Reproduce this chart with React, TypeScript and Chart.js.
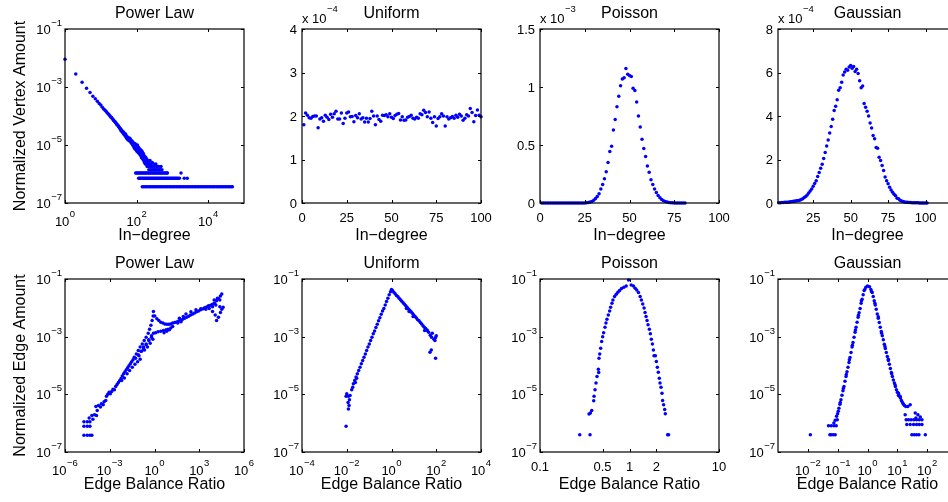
import React, { useEffect, useRef } from "react";
import { Chart, registerables } from "chart.js";

Chart.register(...registerables);

/* ============================ DATA ============================ */

// ---- Top row: in-degree distributions ----

// Power law: [in-degree, normalized vertex amount]
const powerLawIn: [number, number][] = [
  [1, 9.0e-3], [2, 2.8e-3], [3, 1.45e-3], [4, 9.0e-4], [5, 6.4e-4], [6, 4.8e-4], [7, 3.9e-4], [8, 3.2e-4], [9, 2.7e-4], [10, 2.4e-4],
  [11, 2.0e-4], [12, 1.75e-4], [13, 1.6e-4], [14, 1.45e-4], [15, 1.3e-4], [16, 1.2e-4], [17, 1.1e-4], [18, 1.0e-4], [19, 9.2e-5], [20, 8.8e-5],
  [21, 8.0e-5], [22, 7.6e-5], [23, 7.0e-5], [24, 6.6e-5], [25, 6.3e-5], [26, 5.8e-5], [27, 5.6e-5], [28, 5.1e-5], [29, 5.0e-5], [30, 4.8e-5],
  [31, 4.4e-5], [32, 4.3e-5], [33, 3.9e-5], [34, 3.8e-5], [35, 3.6e-5], [36, 3.3e-5], [37, 3.4e-5], [38, 3.0e-5], [39, 3.1e-5], [40, 2.9e-5],
  [41, 2.7e-5], [42, 2.6e-5], [43, 2.8e-5], [44, 2.4e-5], [45, 2.3e-5], [46, 2.5e-5], [47, 2.2e-5], [48, 2.1e-5], [49, 2.4e-5], [50, 2.2e-5],
  [51, 1.8e-5], [52, 2.0e-5], [53, 1.9e-5], [54, 1.7e-5], [55, 1.6e-5], [56, 1.9e-5], [57, 1.65e-5], [58, 1.5e-5], [59, 1.75e-5], [60, 1.7e-5],
  [61, 1.6e-5], [63, 1.4e-5], [65, 1.7e-5], [67, 1.3e-5], [69, 1.5e-5], [71, 1.2e-5], [73, 1.4e-5], [74, 1.1e-5], [76, 1.3e-5], [78, 1.0e-5],
  [79, 1.25e-5], [81, 9.4e-6], [83, 1.15e-5], [84, 8.6e-6], [86, 1.05e-5], [87, 7.9e-6], [89, 9.7e-6], [91, 1.1e-5], [92, 7.2e-6], [94, 9.0e-6],
  [95, 1.0e-5], [97, 6.8e-6], [98, 8.3e-6], [101, 9.4e-6], [102, 6.1e-6], [104, 7.6e-6], [105, 1.0e-5], [107, 5.8e-6], [108, 7.2e-6], [111, 8.6e-6],
  [112, 5.4e-6], [115, 6.5e-6], [116, 7.9e-6], [119, 5.0e-6], [120, 6.1e-6], [123, 7.2e-6], [124, 4.7e-6], [127, 5.8e-6], [128, 6.8e-6], [131, 4.3e-6],
  [133, 5.4e-6], [134, 6.5e-6], [137, 3.6e-6], [139, 5.0e-6], [141, 6.1e-6], [143, 4.0e-6], [145, 4.7e-6], [147, 5.4e-6], [150, 3.2e-6], [152, 4.3e-6],
  [155, 5.0e-6], [158, 2.9e-6], [160, 3.6e-6], [163, 4.3e-6], [166, 2.5e-6], [169, 3.2e-6], [172, 3.9e-6], [175, 2.2e-6], [178, 2.9e-6], [182, 3.6e-6],
  [185, 2.2e-6], [189, 2.5e-6], [193, 3.2e-6], [197, 1.8e-6], [201, 2.9e-6], [205, 2.2e-6], [210, 1.8e-6], [215, 2.5e-6], [220, 1.4e-6], [225, 2.2e-6],
  [231, 1.8e-6], [237, 2.9e-6], [243, 1.4e-6], [250, 2.2e-6], [257, 1.8e-6], [265, 1.4e-6], [273, 2.5e-6], [282, 1.8e-6], [291, 1.4e-6], [300, 2.2e-6],
  [310, 1.4e-6], [320, 1.8e-6], [332, 1.4e-6], [345, 2.2e-6], [358, 1.4e-6], [372, 1.8e-6], [390, 1.4e-6], [410, 1.8e-6], [430, 1.4e-6], [455, 1.4e-6],
  [480, 1.8e-6], [510, 1.4e-6],
];
// Power law: the flat rows at the bottom (3, 2 and 1 vertices)
const powerLawInRowAmounts = [1.08e-6, 7.2e-7, 3.6e-7];
const powerLawInRowDegrees: number[][] = [
  [94, 100, 106, 113, 120, 128, 136, 145, 155, 165, 176, 188, 200, 214, 228, 244, 260, 278, 297, 317, 339, 362, 387, 413, 441, 471, 503, 537, 574, 613, 655, 700, 725, 1740],
  [114, 121, 129, 137, 146, 156, 166, 177, 189, 202, 215, 230, 245, 262, 279, 298, 318, 340, 363, 387, 413, 441, 471, 503, 537, 574, 613, 655, 700, 747, 798, 852, 910, 972, 1040, 1110, 1190, 1270, 1360, 1460, 1570, 2140, 2600],
  [144, 158, 174, 191, 210, 231, 254, 280, 308, 338, 372, 409, 450, 495, 545, 600, 660, 725, 800, 880, 965, 1060, 1170, 1290, 1420, 1560, 1710, 1880, 2070, 2280, 2510, 2760, 3030, 3340, 3670, 4040, 4440, 4880, 5370, 5910, 6500, 7150, 7870, 8650, 9520, 10500, 11500, 12700, 13900, 15300, 16900, 18600, 20400, 22500, 24700, 27200, 29900, 32900, 36200, 39800, 43800, 47300],
];

// Uniform: amount (x 10^-4) for in-degree 1..100
const uniformInFirstDegree = 1;
const uniformInExponent = -4;
const uniformInAmount = [
  1.80, 2.07, 2.02, 1.96, 1.95, 1.99, 2.00, 2.00, 1.73, 1.93, 1.96, 1.88, 2.02, 1.97, 1.92, 2.04, 1.97, 2.05, 2.11, 1.93,
  1.93, 2.07, 1.83, 1.95, 2.07, 2.09, 1.98, 1.99, 1.87, 2.01, 1.96, 2.05, 1.93, 1.96, 1.86, 1.95, 1.86, 1.94, 2.11, 2.00,
  1.80, 2.00, 1.92, 1.88, 2.02, 2.01, 2.03, 1.98, 2.05, 1.97, 1.94, 2.01, 2.04, 2.06, 1.91, 1.98, 1.90, 1.91, 1.97, 1.99,
  2.02, 1.95, 1.93, 1.97, 1.95, 2.05, 2.03, 2.13, 2.08, 1.98, 2.09, 1.95, 1.85, 1.98, 1.77, 1.94, 1.98, 2.05, 2.00, 1.77,
  1.98, 1.93, 1.96, 1.99, 1.95, 2.02, 1.97, 2.04, 2.00, 1.90, 1.95, 2.03, 2.00, 2.17, 2.08, 1.87, 2.01, 2.14, 2.02, 1.98,
];

// Poisson: amount (x 10^-3) for in-degree 1..81
const poissonInFirstDegree = 1;
const poissonInExponent = -3;
const poissonInAmount = [
  0, 0, 0, 0, 0, 0, 0, 0, 0, 0, 0, 0, 0, 0, 0, 0, 0, 0, 0, 0, 0, 0, 0, 0, 0.001,
  0.002, 0.004, 0.008, 0.014, 0.024, 0.038, 0.056, 0.08, 0.12, 0.16,
  0.21, 0.27, 0.35, 0.445, 0.49, 0.63, 0.72, 0.83, 0.92, 1.01,
  1.07, 1.08, 1.16, 1.11, 1.10, 1.09, 0.99, 0.97, 0.87, 0.75,
  0.655, 0.55, 0.47, 0.40, 0.32, 0.265, 0.20, 0.16, 0.12, 0.09,
  0.065, 0.045, 0.03, 0.02, 0.013, 0.008, 0.005, 0.003, 0.002, 0.001,
  0.001, 0.0005, 0.0003, 0.0002, 0.0001, 0.0001,
];

// Gaussian: amount (x 10^-4) for in-degree 2..101
const gaussianInFirstDegree = 2;
const gaussianInExponent = -4;
const gaussianInAmount = [
  0.01, 0.01, 0.02, 0.02, 0.03, 0.03, 0.04, 0.05, 0.06, 0.07,
  0.08, 0.09, 0.10, 0.12, 0.13, 0.16, 0.20, 0.25, 0.30, 0.37,
  0.46, 0.55, 0.64, 0.77, 0.90, 1.02, 1.22, 1.40, 1.60, 1.78,
  2.05, 2.32, 2.62, 2.90, 3.22, 3.52, 3.85, 4.25, 4.45, 4.75,
  5.18, 5.30, 5.55, 5.88, 6.02, 6.15, 6.10, 6.25, 6.32, 6.20,
  6.28, 6.05, 6.15, 5.95, 5.62, 5.30, 5.38, 4.58, 4.40, 4.22,
  4.00, 3.68, 3.45, 3.10, 2.95, 2.55, 2.52, 2.10, 1.95, 1.72,
  1.50, 1.20, 1.02, 0.88, 0.72, 0.60, 0.50, 0.40, 0.33, 0.22,
  0.20, 0.13, 0.09, 0.07, 0.05, 0.04, 0.03, 0.025, 0.02, 0.015,
  0.012, 0.01, 0.008, 0.006, 0.005, 0.004, 0.003, 0.003, 0.002, 0.002,
];

// ---- Bottom row: edge balance ratio as [log10 ratio, log10 amount] ----
const powerLawEdgeLog: [number, number][] = [
  [-4.73, -6.42], [-4.51, -6.42], [-4.33, -6.42], [-4.20, -6.42],
  [-4.73, -6.11], [-4.51, -6.11], [-4.33, -6.11],
  [-4.73, -5.95], [-4.51, -5.95], [-4.33, -5.95],
  [-4.13, -5.86], [-4.38, -5.82], [-4.20, -5.73], [-4.02, -5.71], [-3.89, -5.73], [-3.84, -5.56], [-3.93, -5.42], [-3.76, -5.39],
  [-3.62, -5.44], [-3.56, -5.33], [-3.44, -5.36], [-3.38, -5.26], [-3.27, -5.21], [-3.22, -5.07], [-3.13, -5.00], [-3.04, -4.93],
  [-2.96, -4.98], [-2.87, -4.90], [-2.78, -4.82], [-2.69, -4.84], [-2.60, -4.73], [-2.51, -4.66], [-2.42, -4.59], [-2.33, -4.52],
  [-2.24, -4.45], [-2.16, -4.36], [-2.07, -4.29], [-1.98, -4.22], [-1.89, -4.15], [-1.80, -4.08], [-1.71, -4.01], [-1.62, -3.94],
  [-1.53, -3.87], [-1.44, -3.80],
  [-2.20, -4.52], [-2.02, -4.43], [-1.84, -4.29], [-1.67, -4.17], [-1.49, -4.06], [-1.31, -3.96], [-1.13, -3.87], [-0.96, -3.78],
  [-1.27, -3.75], [-1.09, -3.63], [-0.91, -3.51], [-0.73, -3.36], [-0.56, -3.25], [-0.38, -3.11], [-0.20, -2.97], [-0.07, -2.88],
  [0.64, -2.86], [0.82, -2.81], [1.00, -2.76],
  [-1.36, -3.71], [-1.22, -3.60], [-1.09, -3.48], [-0.96, -3.36], [-0.82, -3.25], [-0.69, -3.13], [-0.56, -3.02], [-0.42, -2.88],
  [-0.33, -2.74], [-0.24, -2.60], [-0.16, -2.44], [-0.09, -2.28], [-0.07, -2.13],
  [-1.04, -3.66], [-0.87, -3.51], [-0.73, -3.43], [-0.56, -3.28], [-0.38, -3.13], [-0.20, -3.02], [-0.47, -3.36], [-0.29, -3.23],
  [-0.11, -3.09], [-0.67, -3.46],
  [0.07, -2.86], [0.24, -2.83], [0.42, -2.81], [0.60, -2.79], [0.78, -2.76], [0.91, -2.74], [1.09, -2.70], [1.22, -2.65],
  [0.02, -2.28], [0.16, -2.38], [0.29, -2.44], [0.42, -2.50], [0.56, -2.53], [0.69, -2.56], [0.82, -2.57], [0.96, -2.57],
  [1.09, -2.56], [1.22, -2.53], [1.36, -2.51], [1.49, -2.49], [1.62, -2.46], [1.76, -2.43], [1.89, -2.40], [2.02, -2.36],
  [2.16, -2.33], [2.29, -2.29], [2.42, -2.25], [2.56, -2.21], [2.69, -2.18], [2.82, -2.14], [2.96, -2.11], [3.09, -2.07],
  [3.22, -2.04], [3.36, -2.00], [3.49, -1.97], [3.62, -1.93], [3.76, -1.91], [3.89, -1.88], [4.02, -1.84], [4.16, -1.75],
  [4.29, -1.68], [4.42, -1.59], [4.51, -1.52],
  [2.11, -2.21], [2.44, -2.14], [2.78, -2.07], [3.11, -2.03], [3.44, -2.05], [3.67, -2.02], [3.89, -1.96], [4.11, -1.90],
  [4.00, -1.73], [4.22, -1.67], [4.38, -1.73], [1.67, -2.36], [1.93, -2.30], [1.56, -2.53], [1.78, -2.48],
  [3.89, -2.13], [4.07, -2.25], [4.16, -2.44], [4.29, -2.33], [4.42, -2.16], [4.51, -2.05], [4.60, -1.98], [4.38, -1.96],
];

const uniformEdgeLog: [number, number][] = [
  [0, -1.36], [-0.044, -1.44], [-0.104, -1.55], [-0.163, -1.67], [-0.222, -1.78], [-0.281, -1.90], [-0.341, -2.02], [-0.4, -2.11],
  [-0.459, -2.22], [-0.519, -2.34], [-0.578, -2.45], [-0.637, -2.57], [-0.696, -2.68], [-0.756, -2.80], [-0.815, -2.90], [-0.874, -3.02],
  [-0.933, -3.13], [-0.993, -3.25], [-1.052, -3.36], [-1.111, -3.48], [-1.17, -3.60], [-1.23, -3.71], [-1.289, -3.83], [-1.348, -3.94],
  [-1.407, -4.06], [-1.467, -4.17], [-1.526, -4.29], [-1.585, -4.40], [-1.644, -4.52], [-1.704, -4.63],
  [-1.556, -4.44], [-1.615, -4.59], [-1.733, -4.75], [-1.778, -4.84], [-1.852, -5.04], [-1.926, -5.07], [-2.0, -4.98], [-2.03, -5.07],
  [-1.881, -5.19], [-1.941, -5.28], [-1.896, -5.39], [-1.926, -5.51], [-2.03, -6.11],
  [0.044, -1.40], [0.104, -1.46], [0.163, -1.51], [0.222, -1.57], [0.281, -1.61], [0.341, -1.67], [0.4, -1.72], [0.459, -1.77],
  [0.519, -1.82], [0.578, -1.88], [0.637, -1.93], [0.696, -1.98], [0.756, -2.04], [0.815, -2.08], [0.874, -2.14], [0.933, -2.19],
  [0.993, -2.25], [1.052, -2.30], [1.111, -2.35], [1.17, -2.41], [1.23, -2.45], [1.289, -2.51], [1.348, -2.56], [1.407, -2.62],
  [1.467, -2.67], [1.526, -2.72], [1.585, -2.77],
  [0.667, -2.02], [0.785, -2.13], [0.963, -2.30], [1.481, -2.79],
  [1.6, -2.79], [1.659, -2.85], [1.733, -2.95], [1.793, -3.02], [1.719, -3.54], [1.778, -3.46], [1.896, -3.09], [1.97, -3.03],
  [1.941, -3.13], [2.0, -2.97], [1.97, -3.75], [1.822, -2.88],
];

const poissonEdgeLog: [number, number][] = [
  [-0.011, -1.035], [0.019, -1.21], [-0.037, -1.24], [0.044, -1.24], [-0.063, -1.29], [0.063, -1.32], [-0.089, -1.33], [0.081, -1.38],
  [-0.111, -1.40], [0.1, -1.47], [-0.13, -1.46], [0.119, -1.61], [-0.148, -1.53], [0.133, -1.73], [-0.167, -1.61], [0.148, -1.87],
  [-0.185, -1.73], [0.163, -2.01], [-0.196, -1.84], [0.174, -2.16], [-0.211, -1.98], [0.185, -2.30], [-0.222, -2.11], [0.196, -2.44],
  [-0.237, -2.25], [0.207, -2.59], [-0.252, -2.40], [0.222, -2.74], [-0.263, -2.53], [0.233, -2.90], [-0.274, -2.67], [0.244, -3.09],
  [-0.289, -2.86], [0.256, -3.25], [-0.30, -3.00], [0.267, -3.46], [-0.311, -3.17], [0.274, -3.66], [-0.322, -3.40], [0.289, -3.66],
  [-0.333, -3.60], [0.30, -3.86], [-0.341, -3.75], [0.311, -4.06], [-0.348, -4.13], [0.322, -4.23], [-0.344, -4.24], [0.333, -4.44],
  [-0.363, -4.38], [0.341, -4.61], [-0.374, -4.61], [0.352, -4.75], [-0.385, -4.84], [0.363, -4.96], [-0.396, -5.07], [0.370, -5.21],
  [-0.40, -5.22], [0.381, -5.36], [-0.422, -5.56], [0.393, -5.53], [-0.437, -5.65], [0.40, -5.67], [-0.452, -5.68],
  [-0.441, -6.40], [-0.556, -6.40], [0.426, -6.40], [0.437, -6.40],
];

const gaussianEdgeLog: [number, number][] = [
  [0, -1.24], [-0.056, -1.29], [-0.113, -1.40], [-0.146, -1.55], [-0.18, -1.70], [-0.214, -1.84], [-0.248, -2.02], [-0.282, -2.17],
  [-0.315, -2.33], [-0.349, -2.50], [-0.383, -2.67], [-0.417, -2.85], [-0.451, -3.02], [-0.485, -3.20], [-0.518, -3.36], [-0.552, -3.55],
  [-0.586, -3.72], [-0.62, -3.90], [-0.654, -4.06], [-0.687, -4.22], [-0.721, -4.38], [-0.755, -4.55], [-0.789, -4.73], [-0.823, -4.88],
  [-0.856, -5.03], [-0.89, -5.19], [-0.924, -5.34], [-0.958, -5.48], [-0.98, -5.59], [-1.003, -5.67],
  [-0.09, -1.36], [-0.203, -1.75], [-0.304, -2.26], [-0.406, -2.77], [-0.507, -3.30], [-0.608, -3.80], [-0.71, -4.31], [-0.811, -4.80],
  [-0.913, -5.28],
  [-1.037, -5.76], [-1.014, -5.88], [-1.082, -5.90], [-1.127, -5.99], [-1.048, -6.09], [-1.127, -6.09], [-1.217, -6.09], [-1.307, -6.09],
  [-1.082, -6.40], [-1.149, -6.40], [-1.217, -6.40], [-1.262, -6.40], [-1.915, -6.40],
  [0.068, -1.27], [0.113, -1.36], [0.158, -1.47], [0.192, -1.61], [0.225, -1.75], [0.259, -1.90], [0.293, -2.05], [0.327, -2.21],
  [0.361, -2.36], [0.394, -2.51], [0.428, -2.67], [0.462, -2.82], [0.496, -2.97], [0.53, -3.11], [0.563, -3.26], [0.597, -3.41],
  [0.631, -3.55], [0.665, -3.69], [0.699, -3.83], [0.732, -3.96], [0.766, -4.10], [0.80, -4.24], [0.834, -4.38], [0.868, -4.50],
  [0.901, -4.61], [0.935, -4.73], [0.969, -4.84], [1.003, -4.93], [1.037, -5.03], [1.07, -5.07], [1.104, -5.13], [1.138, -5.21],
  [1.172, -5.28], [1.206, -5.34], [1.239, -5.39], [1.285, -5.42], [1.352, -5.42], [1.431, -5.36],
  [0.135, -1.43], [0.248, -1.84], [0.361, -2.31], [0.473, -2.88], [0.586, -3.34], [0.699, -3.78], [0.811, -4.29], [0.924, -4.67],
  [1.037, -4.96], [1.093, -5.07],
  [1.262, -5.71], [1.296, -5.88], [1.375, -5.88], [1.465, -5.88], [1.555, -5.88], [1.645, -5.88], [1.735, -5.88], [1.825, -5.88],
  [1.318, -6.05], [1.431, -6.05], [1.544, -6.05], [1.645, -6.05], [1.735, -6.05], [1.825, -6.05],
  [1.487, -6.40], [1.566, -6.40], [1.645, -6.40], [1.724, -6.40], [1.938, -6.40],
  [1.6, -5.65], [1.69, -5.71], [1.769, -5.79], [1.622, -5.82],
];

// ---- Ticks and texts ----
const amountDecadeTicks = [1e-7, 1e-5, 1e-3, 1e-1];
const powerLawDegreeTicks = [1, 1e2, 1e4];
const degreeTicks = [0, 25, 50, 75, 100];
const gaussianDegreeTicks = [25, 50, 75, 100];
const uniformAmountTicks = [0, 1, 2, 3, 4];
const poissonAmountTicks = [0, 0.5, 1, 1.5];
const gaussianAmountTicks = [0, 2, 4, 6, 8];
const powerLawRatioTicks = [1e-6, 1e-3, 1, 1e3, 1e6];
const uniformRatioTicks = [1e-4, 1e-2, 1, 1e2, 1e4];
const poissonRatioTicks = [0.1, 0.5, 1, 2, 10];
const poissonRatioLabels = ["0.1", "0.5", "1", "2", "10"];
const gaussianRatioTicks = [1e-2, 1e-1, 1, 1e1, 1e2];

const panelTitles = ["Power Law", "Uniform", "Poisson", "Gaussian"];
const rowXLabels = ["In\u2212degree", "Edge Balance Ratio"];
const rowYLabels = ["Normalized Vertex Amount", "Normalized Edge Amount"];

/* ============================ LAYOUT / STYLE ============================ */

const FAMILY = '"Liberation Sans", Arial, Helvetica, sans-serif';
const TICK_FONT = `13px ${FAMILY}`;
const EXP_FONT = `9.5px ${FAMILY}`;
const LABEL_FONT = `16px ${FAMILY}`;
const BLUE = "rgb(0,0,255)";
const TICK_LEN = 3;
const DOT_R = 1.75;

const COL_LEFT = [65, 302, 540, 778];
const PLOT_W = 179;
const ROW_TOP = [29, 279];
const PLOT_H = [174, 173];
const CANVAS_H = [250, 252];
const PAD_L = 65;
const PAD_T = 29;
const PAD_R = 26;

type AxisSpec = {
  type: "linear" | "logarithmic";
  min: number;
  max: number;
  ticks: number[];
  labels?: string[];
  pow?: boolean;
};

type PanelSpec = {
  key: string;
  row: number;
  col: number;
  x: AxisSpec;
  y: AxisSpec;
  exponent?: number;
  points: { x: number; y: number }[];
};

const fromSeries = (first: number, values: number[]) => values.map((v, i) => ({ x: first + i, y: v }));
const fromLog = (pairs: [number, number][]) => pairs.map(([lx, ly]) => ({ x: 10 ** lx, y: 10 ** ly }));

const powerLawInPoints = [
  ...powerLawIn.map(([d, a]) => ({ x: d, y: a })),
  ...powerLawInRowDegrees.flatMap((degs, r) => degs.map((d) => ({ x: d, y: powerLawInRowAmounts[r] }))),
];

const logAmountAxis: AxisSpec = { type: "logarithmic", min: 1e-7, max: 1e-1, ticks: amountDecadeTicks, pow: true };

const PANELS: PanelSpec[] = [
  {
    key: "pl-in", row: 0, col: 0,
    x: { type: "logarithmic", min: 1, max: 1e5, ticks: powerLawDegreeTicks, pow: true },
    y: logAmountAxis,
    points: powerLawInPoints,
  },
  {
    key: "un-in", row: 0, col: 1,
    x: { type: "linear", min: 0, max: 100, ticks: degreeTicks },
    y: { type: "linear", min: 0, max: 4, ticks: uniformAmountTicks },
    exponent: uniformInExponent,
    points: fromSeries(uniformInFirstDegree, uniformInAmount),
  },
  {
    key: "po-in", row: 0, col: 2,
    x: { type: "linear", min: 0, max: 100, ticks: degreeTicks },
    y: { type: "linear", min: 0, max: 1.5, ticks: poissonAmountTicks },
    exponent: poissonInExponent,
    points: fromSeries(poissonInFirstDegree, poissonInAmount),
  },
  {
    key: "ga-in", row: 0, col: 3,
    x: { type: "linear", min: 1.5, max: 121, ticks: gaussianDegreeTicks },
    y: { type: "linear", min: 0, max: 8, ticks: gaussianAmountTicks },
    exponent: gaussianInExponent,
    points: fromSeries(gaussianInFirstDegree, gaussianInAmount),
  },
  {
    key: "pl-edge", row: 1, col: 0,
    x: { type: "logarithmic", min: 1e-6, max: 1e6, ticks: powerLawRatioTicks, pow: true },
    y: logAmountAxis,
    points: fromLog(powerLawEdgeLog),
  },
  {
    key: "un-edge", row: 1, col: 1,
    x: { type: "logarithmic", min: 1e-4, max: 1e4, ticks: uniformRatioTicks, pow: true },
    y: logAmountAxis,
    points: fromLog(uniformEdgeLog),
  },
  {
    key: "po-edge", row: 1, col: 2,
    x: { type: "logarithmic", min: 0.1, max: 10, ticks: poissonRatioTicks, labels: poissonRatioLabels },
    y: logAmountAxis,
    points: fromLog(poissonEdgeLog),
  },
  {
    key: "ga-edge", row: 1, col: 3,
    x: { type: "logarithmic", min: 1e-3, max: 1e3, ticks: gaussianRatioTicks, pow: true },
    y: logAmountAxis,
    points: fromLog(gaussianEdgeLog),
  },
];

/* ============================ DRAWING ============================ */

function powParts(v: number): [string, string] {
  const e = Math.round(Math.log10(v));
  return ["10", (e < 0 ? "\u2212" : "") + Math.abs(e)];
}

function drawPow(ctx: CanvasRenderingContext2D, base: string, exp: string, x: number, baseY: number, expY: number, align: "center" | "right" | "left") {
  ctx.font = TICK_FONT;
  const wb = ctx.measureText(base).width;
  ctx.font = EXP_FONT;
  const we = ctx.measureText(exp).width;
  const gap = 0.5;
  const total = wb + gap + we;
  const left = align === "center" ? x - total / 2 : align === "right" ? x - total : x;
  ctx.textAlign = "left";
  ctx.textBaseline = "alphabetic";
  ctx.font = TICK_FONT;
  ctx.fillText(base, left, baseY);
  ctx.font = EXP_FONT;
  ctx.fillText(exp, left + wb + gap, expY);
}

const fmt = (axis: AxisSpec, v: number, i: number) => (axis.labels ? axis.labels[i] : String(v));

function makeAxesPlugin(spec: PanelSpec) {
  return {
    id: "matlabAxes",
    afterDraw(chart: any) {
      const ctx: CanvasRenderingContext2D = chart.ctx;
      const a = chart.chartArea;
      const xs = chart.scales.x;
      const ys = chart.scales.y;
      ctx.save();
      ctx.fillStyle = "#000";
      ctx.strokeStyle = "#000";

      // inward ticks on all four sides
      ctx.lineWidth = 1;
      ctx.beginPath();
      spec.x.ticks.forEach((v) => {
        const px = Math.round(xs.getPixelForValue(v)) + 0.5;
        ctx.moveTo(px, a.bottom);
        ctx.lineTo(px, a.bottom - TICK_LEN);
        ctx.moveTo(px, a.top);
        ctx.lineTo(px, a.top + TICK_LEN);
      });
      spec.y.ticks.forEach((v) => {
        const py = Math.round(ys.getPixelForValue(v)) + 0.5;
        ctx.moveTo(a.left, py);
        ctx.lineTo(a.left + TICK_LEN, py);
        ctx.moveTo(a.right, py);
        ctx.lineTo(a.right - TICK_LEN, py);
      });
      ctx.stroke();

      // box
      ctx.lineWidth = 1.2;
      ctx.strokeRect(a.left, a.top, a.right - a.left, a.bottom - a.top);

      // x tick labels
      spec.x.ticks.forEach((v, i) => {
        const px = xs.getPixelForValue(v);
        if (spec.x.pow) {
          const [b, e] = powParts(v);
          drawPow(ctx, b, e, px, a.bottom + 23, a.bottom + 14, "center");
        } else {
          ctx.font = TICK_FONT;
          ctx.textAlign = "center";
          ctx.textBaseline = "alphabetic";
          ctx.fillText(fmt(spec.x, v, i), px, a.bottom + 18.5);
        }
      });

      // y tick labels
      spec.y.ticks.forEach((v, i) => {
        const py = ys.getPixelForValue(v);
        if (spec.y.pow) {
          const [b, e] = powParts(v);
          drawPow(ctx, b, e, a.left - 3, py + 5, py - 3, "right");
        } else {
          ctx.font = TICK_FONT;
          ctx.textAlign = "right";
          ctx.textBaseline = "alphabetic";
          ctx.fillText(fmt(spec.y, v, i), a.left - 5, py + 4.6);
        }
      });

      // exponent multiplier above the y axis
      if (spec.exponent !== undefined) {
        const e = (spec.exponent < 0 ? "\u2212" : "") + Math.abs(spec.exponent);
        drawPow(ctx, "x 10", e, a.left, a.top - 6.5, a.top - 17, "left");
      }

      // title
      const cx = (a.left + a.right) / 2;
      ctx.font = LABEL_FONT;
      ctx.textAlign = "center";
      ctx.textBaseline = "alphabetic";
      ctx.fillText(panelTitles[spec.col], cx, a.top - 11);

      // x label
      ctx.fillText(rowXLabels[spec.row], cx, a.bottom + 36.5);

      // y label (first column only)
      if (spec.col === 0) {
        ctx.save();
        ctx.translate(25, (a.top + a.bottom) / 2);
        ctx.rotate(-Math.PI / 2);
        ctx.textAlign = "center";
        ctx.textBaseline = "alphabetic";
        ctx.fillText(rowYLabels[spec.row], 0, 0);
        ctx.restore();
      }
      ctx.restore();
    },
  };
}

function Panel({ spec }: { spec: PanelSpec }) {
  const ref = useRef<HTMLCanvasElement | null>(null);
  const w = PAD_L + PLOT_W + PAD_R;
  const h = CANVAS_H[spec.row];
  const left = COL_LEFT[spec.col] - PAD_L;
  const top = ROW_TOP[spec.row] - PAD_T;
  const padBottom = h - PAD_T - PLOT_H[spec.row];

  useEffect(() => {
    if (!ref.current) return;
    const chart = new Chart(ref.current, {
      type: "scatter",
      data: {
        datasets: [
          {
            data: spec.points,
            pointRadius: DOT_R,
            pointHoverRadius: DOT_R,
            pointBorderWidth: 0,
            backgroundColor: BLUE,
            borderColor: BLUE,
            clip: false,
          } as any,
        ],
      },
      options: {
        animation: false,
        responsive: false,
        devicePixelRatio: 1,
        events: [],
        layout: { padding: { left: PAD_L, top: PAD_T, right: PAD_R, bottom: padBottom } },
        plugins: { legend: { display: false }, tooltip: { enabled: false }, title: { display: false } },
        scales: {
          x: { type: spec.x.type, min: spec.x.min, max: spec.x.max, display: false },
          y: { type: spec.y.type, min: spec.y.min, max: spec.y.max, display: false },
        },
      } as any,
      plugins: [makeAxesPlugin(spec)],
    });
    return () => chart.destroy();
  }, [spec]);

  return (
    <canvas
      ref={ref}
      width={w}
      height={h}
      style={{ position: "absolute", left, top, width: w, height: h, display: "block" }}
    />
  );
}

export default function App() {
  return (
    <div
      style={{
        position: "fixed",
        left: 0,
        top: 0,
        width: 948,
        height: 502,
        overflow: "hidden",
        background: "#fff",
      }}
    >
      {PANELS.map((p) => (
        <Panel key={p.key} spec={p} />
      ))}
    </div>
  );
}
